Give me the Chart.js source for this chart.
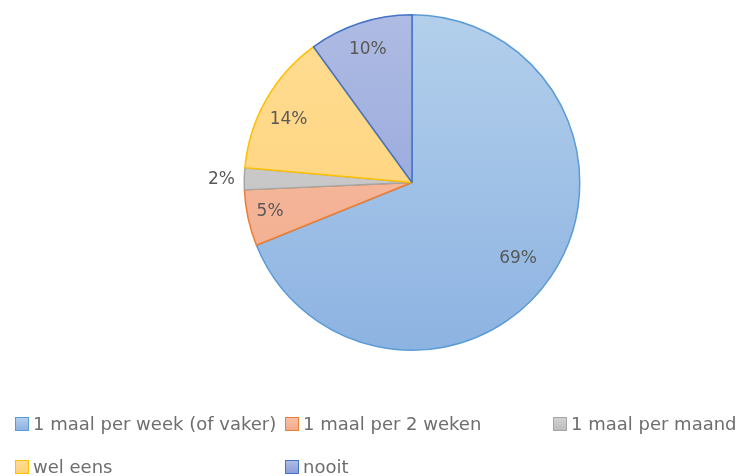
<!DOCTYPE html>
<html>
<head>
<meta charset="utf-8">
<script src="https://cdn.jsdelivr.net/npm/chart.js@4.4.0/dist/chart.umd.min.js"></script>
<style>
  html, body { margin: 0; padding: 0; background: #ffffff; }
  #wrap { position: relative; width: 740px; height: 476px; overflow: hidden; }
  #c { position: absolute; left: 0; top: 0; }
  .lg { position: absolute; display: flex; align-items: center; font-family: "DejaVu Sans", sans-serif; font-size: 18px; color: #6e6e6e; white-space: nowrap; line-height: 20px; }
  .lg .box { width: 12px; height: 12px; border: 1px solid; margin-right: 4px; box-sizing: content-box; }
</style>
</head>
<body>
<div id="wrap">
  <canvas id="c" width="740" height="476"></canvas>
  <div id="legend"></div>
</div>
<script>
// ---- data ----
const categories = ["1 maal per week (of vaker)", "1 maal per 2 weken", "1 maal per maand", "wel eens", "nooit"];
const values = [68.9, 5.4, 2.1, 13.6, 10.0];

// ---- style ----
const fillTop    = ["#b3cfeb", "#f7c1a7", "#d2d2d2", "#ffdd94", "#aebbe3"];
const fillBottom = ["#8db3e2", "#f2a98a", "#bdbdbd", "#ffd073", "#8b9ed8"];
const borders    = ["#5b9bd5", "#ed7d31", "#a5a5a5", "#ffc000", "#4472c4"];
const labelRadial = [0.777, 0.863, 1.136, 0.827, 0.839];
const labelAngleShift = [1.5, 0.9, -0.3, -2.4, -0.3]; // degrees
const legendPos = [[15, 424], [285, 424], [553, 424], [15, 467], [285, 467]];

function gradientFor(ctx, i) {
  const chart = ctx.chart;
  const area = chart.chartArea;
  if (!area) return fillTop[i];
  const cy = (area.top + area.bottom) / 2;
  const r = Math.min(area.width, area.height) / 2;
  const g = chart.ctx.createLinearGradient(0, cy - r, 0, cy + r);
  g.addColorStop(0, fillTop[i]);
  g.addColorStop(1, fillBottom[i]);
  return g;
}

const labelPlugin = {
  id: 'pctLabels',
  afterDatasetsDraw(chart) {
    const meta = chart.getDatasetMeta(0);
    const ctx = chart.ctx;
    const total = values.reduce((a, b) => a + b, 0);
    ctx.save();
    ctx.font = '17px "DejaVu Sans", sans-serif';
    ctx.fillStyle = '#595959';
    ctx.textAlign = 'center';
    ctx.textBaseline = 'middle';
    meta.data.forEach((arc, i) => {
      const p = arc.getProps(['x', 'y', 'startAngle', 'endAngle', 'outerRadius'], true);
      const mid = (p.startAngle + p.endAngle) / 2 + labelAngleShift[i] * Math.PI / 180;
      const r = p.outerRadius * labelRadial[i];
      const x = p.x + Math.cos(mid) * r;
      const y = p.y + Math.sin(mid) * r;
      ctx.fillText(Math.round(values[i] / total * 100) + '%', x, y + 0.5);
    });
    ctx.restore();
  }
};

new Chart(document.getElementById('c'), {
  type: 'pie',
  data: {
    labels: categories,
    datasets: [{
      data: values,
      backgroundColor: (ctx) => gradientFor(ctx, ctx.dataIndex),
      borderColor: borders,
      borderWidth: 1.5,
      hoverOffset: 0
    }]
  },
  options: {
    responsive: false,
    animation: false,
    devicePixelRatio: 1,
    layout: { padding: { top: 14, bottom: 125, left: 200, right: 116 } },
    plugins: { legend: { display: false }, tooltip: { enabled: false } }
  },
  plugins: [labelPlugin]
});

// ---- legend (HTML text) ----
const lg = document.getElementById('legend');
categories.forEach((name, i) => {
  const d = document.createElement('div');
  d.className = 'lg';
  d.style.left = legendPos[i][0] + 'px';
  d.style.top = (legendPos[i][1] - 10) + 'px';
  const b = document.createElement('span');
  b.className = 'box';
  b.style.borderColor = borders[i];
  b.style.background = 'linear-gradient(' + fillTop[i] + ',' + fillBottom[i] + ')';
  const t = document.createElement('span');
  t.textContent = name;
  d.appendChild(b);
  d.appendChild(t);
  lg.appendChild(d);
});
</script>
</body>
</html>
